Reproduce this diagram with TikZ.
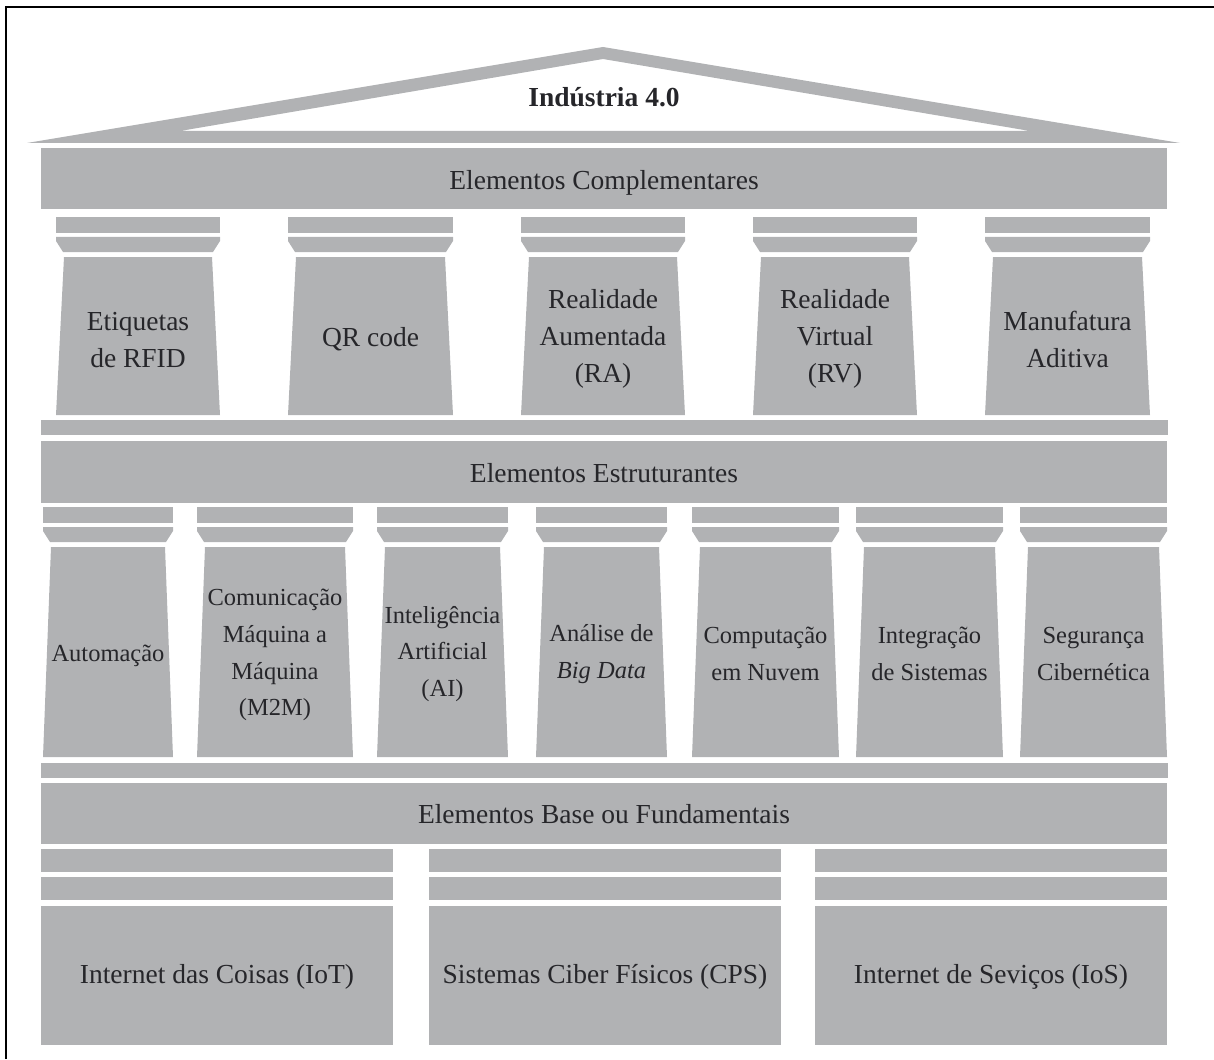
\documentclass[tikz,border=0pt]{standalone}
\usepackage{fontspec}
\setmainfont{Liberation Serif}
\definecolor{pg}{RGB}{177,178,180}
\definecolor{tx}{RGB}{38,38,42}
\tikzset{
  stone/.style={fill=pg, draw=none},
  lbl/.style={text=tx, align=center, inner sep=0pt, font=\fontsize{27.5}{37}\selectfont},
  slbl/.style={text=tx, align=center, inner sep=0pt, font=\fontsize{24.5}{36.7}\selectfont},
}
% xl, xr, y0 (abacus top), y1 (shaft bottom)
\newcommand\mypillar[4]{%
  \fill[stone] (#1,#3) rectangle (#2,#3+16);
  \fill[stone] (#1,#3+20) -- (#2,#3+20) -- (#2,#3+24) -- (#2-7,#3+35) -- (#1+7,#3+35) -- (#1,#3+24) -- cycle;
  \fill[stone] (#1+8,#3+40) -- (#2-8,#3+40) -- (#2,#4) -- (#1,#4) -- cycle;
}
\begin{document}
\begin{tikzpicture}[x=1pt,y=-1pt]
\useasboundingbox (0,0) rectangle (1214,1059);
% frame
\draw[line width=1.5pt] (6,1059) -- (6,7) -- (1214,7);
% roof
\fill[stone,even odd rule] (27,143) -- (603,47) -- (1180,143) -- cycle
  (180,131) -- (603,59) -- (1030,131) -- cycle;
\node[lbl,font=\fontsize{27.5}{37}\selectfont\bfseries,anchor=base] (ind) at (604,107) {Indústria 4.0};
% complementares
\fill[stone] (41,148) rectangle (1167,209);
\node[lbl,anchor=base] (comp) at (604,190) {Elementos Complementares};
\mypillar{56}{220}{217}{415}
\mypillar{288}{453}{217}{415}
\mypillar{521}{685}{217}{415}
\mypillar{753}{917}{217}{415}
\mypillar{985}{1150}{217}{415}
\node[lbl] (rfid) at (138,340) {Etiquetas\\de RFID};
\node[lbl] (qr) at (370.5,339) {QR code};
\node[lbl] (ra) at (603,339) {Realidade\\Aumentada\\(RA)};
\node[lbl] (rv) at (835,339) {Realidade\\Virtual\\(RV)};
\node[lbl] (ma) at (1067.5,339) {Manufatura\\Aditiva};
\fill[stone] (41,420) rectangle (1168,435);
% estruturantes
\fill[stone] (41,441) rectangle (1167,503);
\node[lbl,anchor=base] (estr) at (604,482) {Elementos Estruturantes};
\mypillar{43}{173}{507}{757}
\mypillar{197}{353}{507}{757}
\mypillar{377}{508}{507}{757}
\mypillar{536}{667}{507}{757}
\mypillar{692}{839}{507}{757}
\mypillar{856}{1003}{507}{757}
\mypillar{1020}{1167}{507}{757}
\node[slbl] (aut) at (108,656) {Automação};
\node[slbl] (m2m) at (275,655) {Comunicação\\Máquina a\\Máquina\\(M2M)};
\node[slbl] (ai) at (442.5,654) {Inteligência\\Artificial\\(AI)};
\node[slbl] (bd) at (601.5,654) {Análise de\\\textit{Big Data}};
\node[slbl] (cn) at (765.5,654) {Computação\\em Nuvem};
\node[slbl] (is) at (929.5,654) {Integração\\de Sistemas};
\node[slbl] (sc) at (1093.5,654) {Segurança\\Cibernética};
\fill[stone] (41,763) rectangle (1168,778);
% base
\fill[stone] (41,783) rectangle (1167,844);
\node[lbl,anchor=base] (base) at (604,823) {Elementos Base ou Fundamentais};
\foreach \xl/\xr in {41/393, 429/781, 815/1167}{
  \fill[stone] (\xl,849) rectangle (\xr,872);
  \fill[stone] (\xl,877) rectangle (\xr,900);
  \fill[stone] (\xl,906) rectangle (\xr,1045);
}
\node[lbl] (iot) at (217,977) {Internet das Coisas (IoT)};
\node[lbl] (cps) at (605,977) {Sistemas Ciber Físicos (CPS)};
\node[lbl] (ios) at (991,977) {Internet de Seviços (IoS)};
\end{tikzpicture}
\end{document}
